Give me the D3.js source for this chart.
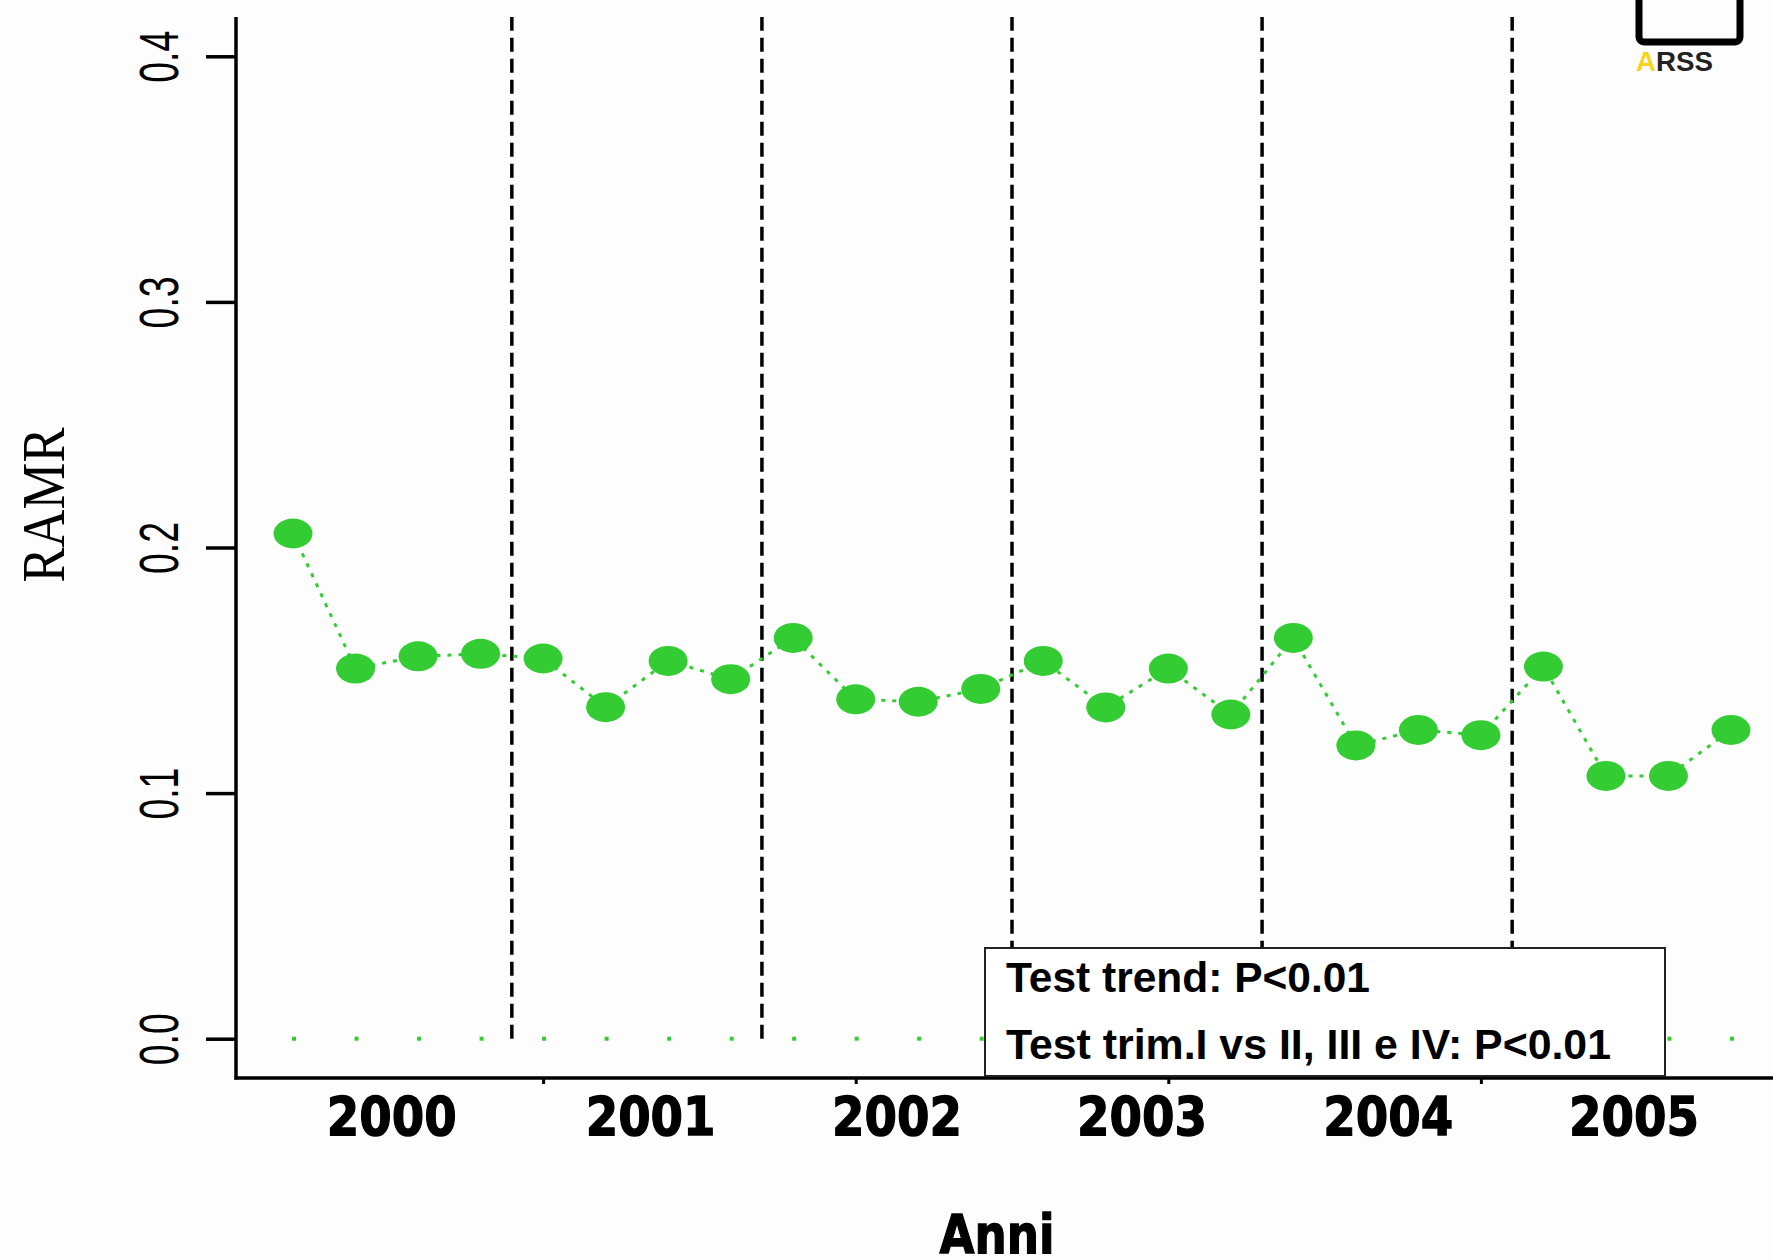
<!DOCTYPE html>
<html>
<head>
<meta charset="utf-8">
<script src="https://cdn.jsdelivr.net/npm/d3@7"></script>
<style>
  html, body { margin: 0; padding: 0; background: #fdfdfd; }
  svg { display: block; }
</style>
</head>
<body>
<svg id="chart" width="1773" height="1260"></svg>
<script>
// Quarterly RAMR, 2000–2005 (four quarters per year)
const quarterIndex = d3.range(1, 25);
const ramrValues = [
  0.2057, 0.1507, 0.1557, 0.1567,
  0.1548, 0.1350, 0.1538, 0.1464,
  0.1632, 0.1382, 0.1372, 0.1424,
  0.1538, 0.1349, 0.1507, 0.1320,
  0.1632, 0.1194, 0.1257, 0.1236,
  0.1515, 0.1070, 0.1070, 0.1257
];
const zeroValues = quarterIndex.map(() => 0);
const yearLabels = ["2000", "2001", "2002", "2003", "2004", "2005"];
// where each year label sits, in quarter-index units
const yearLabelAt = [2.58, 6.72, 10.66, 14.58, 18.52, 22.45];
const yTicks = [0.0, 0.1, 0.2, 0.3, 0.4];
const xMinorTicks = [5, 10, 15, 20];
const yearBreaks = [4.5, 8.5, 12.5, 16.5, 20.5];
const legendLines = ["Test trend: P<0.01", "Test trim.I vs II, III e IV: P<0.01"];

const svg = d3.select("#chart");
const W = 1773, H = 1260;

svg.append("rect").attr("width", W).attr("height", H).attr("fill", "#fdfdfd");

// plot region (x extends past the right edge of the canvas)
const x = d3.scaleLinear().domain([0.08, 24.92]).range([235.5, 1788.5]);
const y = d3.scaleLinear().domain([-0.016, 0.416]).range([1078, 17]);

const green = "#33cc33";
const boldSans = "'DejaVu Sans', Verdana, sans-serif";

// year separators
svg.append("g").selectAll("line").data(yearBreaks).join("line")
  .attr("x1", d => x(d)).attr("x2", d => x(d))
  .attr("y1", y(0)).attr("y2", y(0.416))
  .attr("stroke", "#000").attr("stroke-width", 3.5)
  .attr("stroke-dasharray", "14,7");

// zero baseline markers
svg.append("g").selectAll("rect").data(zeroValues).join("rect")
  .attr("x", (d, i) => x(quarterIndex[i]) - 1)
  .attr("y", d => y(d) - 2)
  .attr("width", 4).attr("height", 4)
  .attr("fill", green);

// dotted connecting line
const line = d3.line()
  .x((d, i) => x(quarterIndex[i]))
  .y(d => y(d));
svg.append("path").datum(ramrValues)
  .attr("d", line)
  .attr("fill", "none")
  .attr("stroke", green)
  .attr("stroke-width", 3)
  .attr("stroke-dasharray", "4,7");

// points
svg.append("g").selectAll("ellipse").data(ramrValues).join("ellipse")
  .attr("cx", (d, i) => x(quarterIndex[i]))
  .attr("cy", d => y(d))
  .attr("rx", 19.5).attr("ry", 15)
  .attr("fill", green);

// axes (L-shaped frame)
const axisG = svg.append("g").attr("stroke", "#000").attr("stroke-width", 3.5);
axisG.append("line").attr("x1", 236).attr("x2", 236).attr("y1", 17).attr("y2", 1079.5);
axisG.append("line").attr("x1", 234.5).attr("x2", W).attr("y1", 1078).attr("y2", 1078);

// y axis ticks + labels
const yAxis = d3.axisLeft(y).tickValues(yTicks).tickSize(30).tickSizeOuter(0).tickFormat(d3.format(".1f"));
const yG = svg.append("g").attr("transform", "translate(236,0)").call(yAxis);
yG.select(".domain").remove();
yG.selectAll(".tick line").attr("stroke", "#000").attr("stroke-width", 3.5);
yG.selectAll(".tick text").remove();
yG.selectAll(".tick").append("text")
  .attr("transform", "translate(-58,0) rotate(-90)")
  .attr("text-anchor", "middle")
  .attr("fill", "#000")
  .attr("font-family", "'Liberation Sans Narrow', 'Liberation Sans', Arial, sans-serif")
  .attr("font-size", 56)
  .attr("textLength", 52)
  .attr("lengthAdjust", "spacingAndGlyphs")
  .text(d => d3.format(".1f")(d));

// x axis minor ticks
const xAxis = d3.axisBottom(x).tickValues(xMinorTicks).tickSize(6).tickSizeOuter(0).tickFormat("");
const xG = svg.append("g").attr("transform", "translate(0,1078)").call(xAxis);
xG.select(".domain").remove();
xG.selectAll(".tick line").attr("stroke", "#000").attr("stroke-width", 3);

// year labels
svg.append("g").selectAll("text").data(yearLabels).join("text")
  .attr("x", (d, i) => x(yearLabelAt[i]))
  .attr("y", 1135)
  .attr("text-anchor", "middle")
  .attr("font-family", boldSans)
  .attr("font-weight", 700)
  .attr("font-size", 53.5)
  .attr("textLength", 130)
  .attr("lengthAdjust", "spacingAndGlyphs")
  .attr("fill", "#000")
  .attr("stroke", "#000").attr("stroke-width", 1.3)
  .text(d => d);

// axis titles
svg.append("text")
  .attr("x", 997).attr("y", 1253)
  .attr("text-anchor", "middle")
  .attr("font-family", boldSans)
  .attr("font-weight", 700)
  .attr("font-size", 53.5)
  .attr("textLength", 115)
  .attr("lengthAdjust", "spacingAndGlyphs")
  .attr("fill", "#000")
  .attr("stroke", "#000").attr("stroke-width", 1.3)
  .text("Anni");

svg.append("text")
  .attr("transform", "translate(64,505) rotate(-90)")
  .attr("text-anchor", "middle")
  .attr("font-family", "'Liberation Serif', 'Times New Roman', serif")
  .attr("font-size", 62)
  .attr("textLength", 155)
  .attr("lengthAdjust", "spacingAndGlyphs")
  .attr("fill", "#000")
  .text("RAMR");

// test results box
const lg = svg.append("g");
lg.append("rect")
  .attr("x", 985).attr("y", 948).attr("width", 680).attr("height", 128)
  .attr("fill", "#fff").attr("stroke", "#222").attr("stroke-width", 2);
lg.selectAll("text").data(legendLines).join("text")
  .attr("x", 1006)
  .attr("y", (d, i) => 992 + i * 67)
  .attr("font-family", "'Liberation Sans Narrow', 'Liberation Sans', Arial, sans-serif")
  .attr("font-weight", 700)
  .attr("font-size", 43)
  .attr("textLength", (d, i) => i === 0 ? 364 : 605)
  .attr("lengthAdjust", "spacingAndGlyphs")
  .attr("fill", "#000")
  .text(d => d);

// ARSS mark, top right
const logo = svg.append("g");
logo.append("rect")
  .attr("x", 1639).attr("y", -20).attr("width", 101).attr("height", 62)
  .attr("rx", 5)
  .attr("fill", "none").attr("stroke", "#000").attr("stroke-width", 7);
const logoText = logo.append("text")
  .attr("x", 1636).attr("y", 71)
  .attr("font-family", "'Liberation Sans', Arial, sans-serif")
  .attr("font-weight", 700)
  .attr("font-size", 27)
  .attr("textLength", 77)
  .attr("lengthAdjust", "spacingAndGlyphs");
logoText.append("tspan").attr("fill", "#f7d21e").text("A");
logoText.append("tspan").attr("fill", "#222").text("RSS");
</script>
</body>
</html>
